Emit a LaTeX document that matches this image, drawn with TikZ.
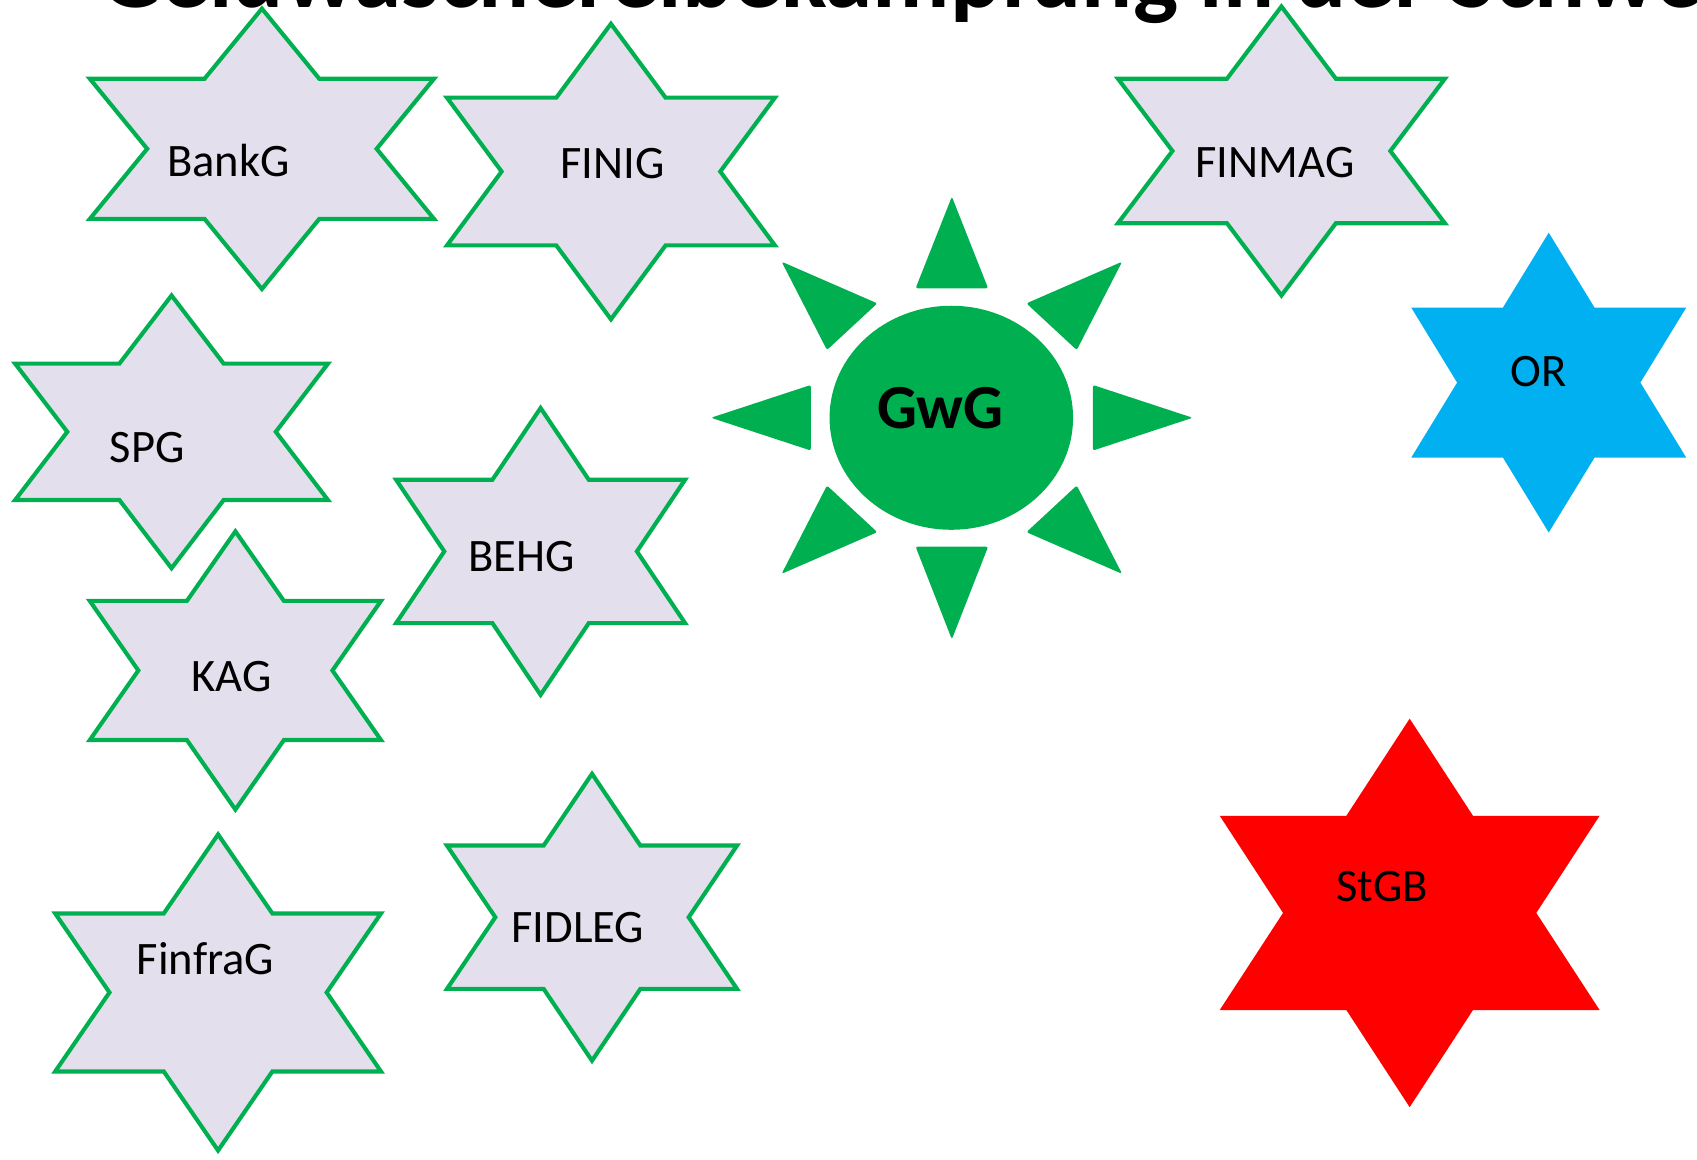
\documentclass[tikz,border=0pt]{standalone}
\usepackage{fontspec}
\setmainfont{Carlito}
\definecolor{offgreen}{HTML}{00B050}
\definecolor{lav}{HTML}{E4DFEC}
\definecolor{skyblue}{HTML}{00B0F0}
\definecolor{strred}{HTML}{FF0000}
\newcommand\sixstar[5]{%
 \path[#1] ({#2},{#3-#5/2}) -- ({#2+#4/6},{#3-#5/4}) -- ({#2+#4/2},{#3-#5/4}) -- ({#2+#4/3},{#3}) -- ({#2+#4/2},{#3+#5/4}) -- ({#2+#4/6},{#3+#5/4}) -- ({#2},{#3+#5/2}) -- ({#2-#4/6},{#3+#5/4}) -- ({#2-#4/2},{#3+#5/4}) -- ({#2-#4/3},{#3}) -- ({#2-#4/2},{#3-#5/4}) -- ({#2-#4/6},{#3-#5/4}) -- cycle;}
\tikzset{
  lawstar/.style={draw=offgreen, fill=lav, line width=3.8pt, line join=miter},
  solidstar/.style={fill=#1, line join=round},
  lbl/.style={anchor=base, inner sep=0pt, font=\fontsize{43}{50}\selectfont},
  ray/.style={fill=offgreen, rounded corners=2pt},
}
\begin{document}
\begin{tikzpicture}[x=1pt, y=-1pt]
\useasboundingbox (0,0) rectangle (1568,1071);
\fill[white] (0,0) rectangle (1568,1071);
\clip (0,0) rectangle (1568,1071);
% title (cut off at the top, as in the reference)
\node[anchor=base west, inner sep=0pt, font=\bfseries\fontsize{88}{100}\selectfont] (title) at (93,7) {Geldwäschereibekämpfung in der Schweiz};
% stars
\sixstar{lawstar}{242}{137.5}{318}{259}
\sixstar{lawstar}{564.5}{158.5}{303}{273}
\sixstar{lawstar}{1184}{139.5}{302}{267}
\sixstar{solidstar=skyblue}{1431}{353.5}{254}{277}
\sixstar{lawstar}{158.5}{399}{289}{252}
\sixstar{lawstar}{499.5}{509.5}{267}{265}
\sixstar{lawstar}{217.5}{619.5}{269}{257}
\sixstar{lawstar}{201.5}{917}{301}{292}
\sixstar{lawstar}{547}{847.5}{268}{265}
\sixstar{solidstar=strred}{1302.5}{843.5}{351}{359}
% labels
\node[lbl] (bankg) at (211,163) {BankG};
\node[lbl] (finig) at (566,164.5) {FINIG};
\node[lbl] (finmag) at (1178,164) {FINMAG};
\node[lbl] (or) at (1422,357) {OR};
\node[lbl] (spg) at (136,427) {SPG};
\node[lbl] (behg) at (482,528) {BEHG};
\node[lbl] (kag) at (214,638.5) {KAG};
\node[lbl] (finfrag) at (190,900) {FinfraG};
\node[lbl] (fidleg) at (534,871) {FIDLEG};
\node[lbl] (stgb) at (1277,833) {StGB};
% sun
\fill[offgreen] (879,386) ellipse [x radius=112.5pt, y radius=103.5pt];
\path[ray] (846,266.4) -- (879.5,181.7) -- (913,266.4) -- cycle;
\path[ray] (846,505.1) -- (879.5,590.7) -- (913,505.1) -- cycle;
\path[ray] (749.2,355.7) -- (657,386) -- (749.2,416.3) -- cycle;
\path[ray] (1009.8,355.7) -- (1102,386) -- (1009.8,416.3) -- cycle;
\path[ray] (722.2,241.8) -- (810.6,280.3) -- (764.1,323.4) -- cycle;
\path[ray] (1036.8,241.8) -- (948.4,280.3) -- (994.9,323.4) -- cycle;
\path[ray] (722.2,530.2) -- (810.6,491.7) -- (764.1,448.6) -- cycle;
\path[ray] (1036.8,530.2) -- (948.4,491.7) -- (994.9,448.6) -- cycle;
\node[anchor=base, inner sep=0pt, font=\bfseries\fontsize{58}{66}\selectfont] (gwg) at (869,395.7) {GwG};
\end{tikzpicture}
\end{document}
